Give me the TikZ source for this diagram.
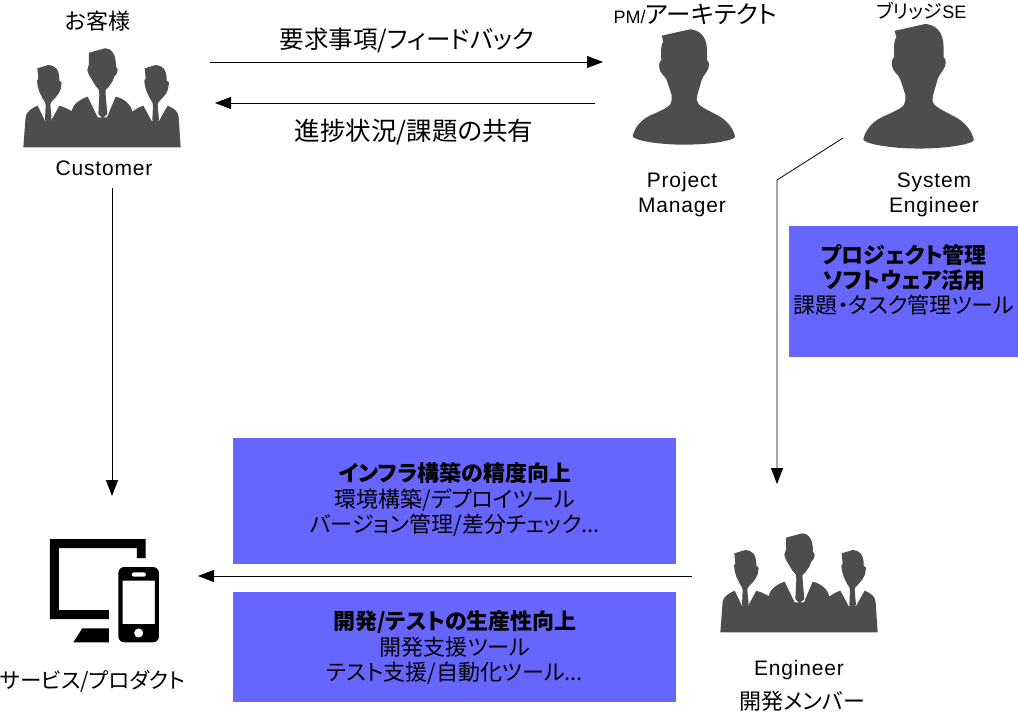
\documentclass[tikz,border=0pt]{standalone}
\usepackage{fontspec}
\setmainfont{Liberation Sans}
\newfontfamily\jafont[RawFeature=+palt]{Noto Sans CJK JP}
\newfontfamily\enfont[LetterSpace=4]{Liberation Sans}
\usetikzlibrary{arrows.meta,positioning}
\definecolor{boxblue}{HTML}{6666FF}
\definecolor{shadow}{HTML}{4D4D4D}
\tikzset{%
	bluebox/.style  = {fill=boxblue, inner sep=0pt, anchor=north west},
	boxtext/.style  = {align=center, font=\jafont\fontsize{22}{25.5}\selectfont, inner sep=0pt},
	jalabel/.style  = {font=\jafont\fontsize{#1}{#1}\selectfont, inner sep=0pt},
	enlabel/.style  = {align=center, font=\enfont\fontsize{21}{25}\selectfont, inner sep=0pt},
	arrow/.style    = {line width=.8pt,-{Triangle[length=16pt,width=12pt]}},
	pics/bust/.style = {code={
		\fill[shadow] (185,107) -- (270,88) .. controls (300,90) and (320,110) .. (321,150) -- (321,180) .. controls (330,185) and (328,205) .. (320,215) .. controls (312,228) and (308,230) .. (305,240) -- (292,285) -- (290,300) .. controls (292,318) and (320,328) .. (345,342) .. controls (380,358) and (400,385) .. (405,410) .. controls (405,420) and (340,434) .. (252,434) .. controls (170,434) and (98,420) .. (98,408) .. controls (105,380) and (125,355) .. (165,340) .. controls (195,326) and (215,318) .. (215,300) -- (215,285) -- (200,240) .. controls (195,228) and (180,220) .. (178,205) .. controls (176,190) and (180,182) .. (184,180) .. controls (182,150) and (184,130) .. (190,125) -- cycle;
	}},
	pics/crowd/.style = {code={
		\fill[shadow,shift={(45,120)}] (25,322) -- (32,230) .. controls (34,215) and (50,205) .. (68,197) -- (90,243) -- (108,243) -- (133,197) -- (150,203) -- (170,213) .. controls (172,195) and (195,177) .. (218,170) -- (248,232) -- (276,232) -- (302,170) .. controls (325,175) and (348,192) .. (352,215) .. controls (362,207) and (375,200) .. (385,197) -- (410,243) -- (432,243) -- (458,197) .. controls (478,205) and (490,215) .. (491,232) -- (497,322) -- cycle;
		\foreach \dx in {0,322}
		\fill[shadow,shift={(45+\dx,120)}] (67,85) -- (100,75) .. controls (118,76) and (134,85) .. (133,122) -- (140,128) -- (137,148) -- (130,162) -- (122,172) -- (108,187) -- (106,195) -- (110,240) -- (99,248) -- (90,240) -- (92,195) -- (90,187) -- (82,174) -- (73,155) -- (68,138) -- (66,122) -- (70,115) -- cycle;
		\fill[shadow,shift={(45,120)}] (222,38) -- (270,25) .. controls (292,26) and (303,45) .. (303,80) -- (308,88) -- (306,100) -- (298,110) -- (292,125) -- (280,142) -- (272,150) -- (272,165) -- (277,222) -- (263,235) -- (250,222) -- (253,165) -- (252,150) -- (240,135) -- (230,118) -- (222,105) -- (217,90) -- (220,80) -- (222,72) -- cycle;
	}},
}
\begin{document}
\begin{tikzpicture}[x=1pt,y=-1pt]
	\useasboundingbox (0,0) rectangle (1018,712);
	\pic (customers) at (0,0) [scale=1/3] {crowd};
	\pic (engineers) at (697,485) [scale=1/3] {crowd};
	\pic (manager) at (600,0) [scale=1/3] {bust};
	\pic (bridge) at (828,-7.7) [scale=.36] {bust};
	% service icon
	\fill[even odd rule,shift={(0,520)},scale=1/3] (150,57) -- (437,57) -- (437,114) -- (411,114) -- (411,84) -- (177,84) -- (177,270) -- (327,270) -- (327,297) -- (150,297) -- cycle (247,325) -- (327,325) -- (327,367) -- (220,367) -- cycle [rounded corners=6pt] (355,141) rectangle (477,367) [sharp corners] (368,182) rectangle (465,312) (416,339) circle (14) [rounded corners=2pt] (395,157) rectangle (438,170);
	\node[bluebox,minimum width=229pt,minimum height=131pt] (toolbox) at (789,226) {};
	\node[bluebox,minimum width=443pt,minimum height=126pt] (infrabox) at (233,438) {};
	\node[bluebox,minimum width=443pt,minimum height=110pt] (devbox) at (233,592) {};
	\node[boxtext] (tooltext) at (904,280) {\bfseries プロジェクト管理\\[-.5pt]\bfseries ソフトウェア活用\\[-1pt]課題・タスク管理ツール};
	\node[boxtext] (infratext) at (455,499.5) {\bfseries インフラ構築の精度向上\\環境構築/デプロイツール\\バージョン管理/差分チェック...};
	\node[boxtext] (devtext) at (455,648) {\bfseries 開発/テストの生産性向上\\開発支援ツール\\テスト支援/自動化ツール...};
	\node[jalabel=22] (customerja) at (98,21) {お客様};
	\node[enlabel] (customeren) at (104,168.5) {Customer};
	\node[inner sep=0pt] (managerja) at (695.5,14) {\fontsize{18}{18}\selectfont PM/\jafont\fontsize{24.5}{24.5}\selectfont アーキテクト};
	\node[enlabel] (manageren) at (682,194.5) {Project\\Manager};
	\node[inner sep=0pt] (bridgeja) at (921.5,11) {\jafont\fontsize{19}{19}\selectfont ブリッジ\rmfamily\fontsize{18}{18}\selectfont SE};
	\node[enlabel] (bridgeen) at (934,194.5) {System\\Engineer};
	\node[jalabel=21.5] (serviceja) at (92.5,681) {サービス/プロダクト};
	\node[enlabel] (engineeren) at (799,670) {Engineer};
	\node[jalabel=22] (engineerja) at (802.5,701) {開発メンバー};
	\node[jalabel=24.5] (requestlabel) at (407,40) {要求事項/フィードバック};
	\node[jalabel=25.5] (progresslabel) at (414,132.5) {進捗状況/課題の共有};
	\coordinate (requeststart) at (210,62);
	\coordinate (requestend) at (603,62);
	\coordinate (progressstart) at (595,103);
	\coordinate (progressend) at (215,103);
	\coordinate (deliverstart) at (112,188);
	\coordinate (deliverend) at (112,496);
	\coordinate (bridgestart) at (843,138);
	\coordinate (bridgebend) at (777,180);
	\coordinate (bridgeend) at (777,484);
	\coordinate (releasestart) at (692,576);
	\coordinate (releaseend) at (198,576);
	\draw[arrow] (requeststart) -- (requestend);
	\draw[arrow] (progressstart) -- (progressend);
	\draw[arrow] (deliverstart) -- (deliverend);
	\draw[arrow] (bridgestart) -- (bridgebend) -- (bridgeend);
	\draw[arrow] (releasestart) -- (releaseend);
\end{tikzpicture}
\end{document}
